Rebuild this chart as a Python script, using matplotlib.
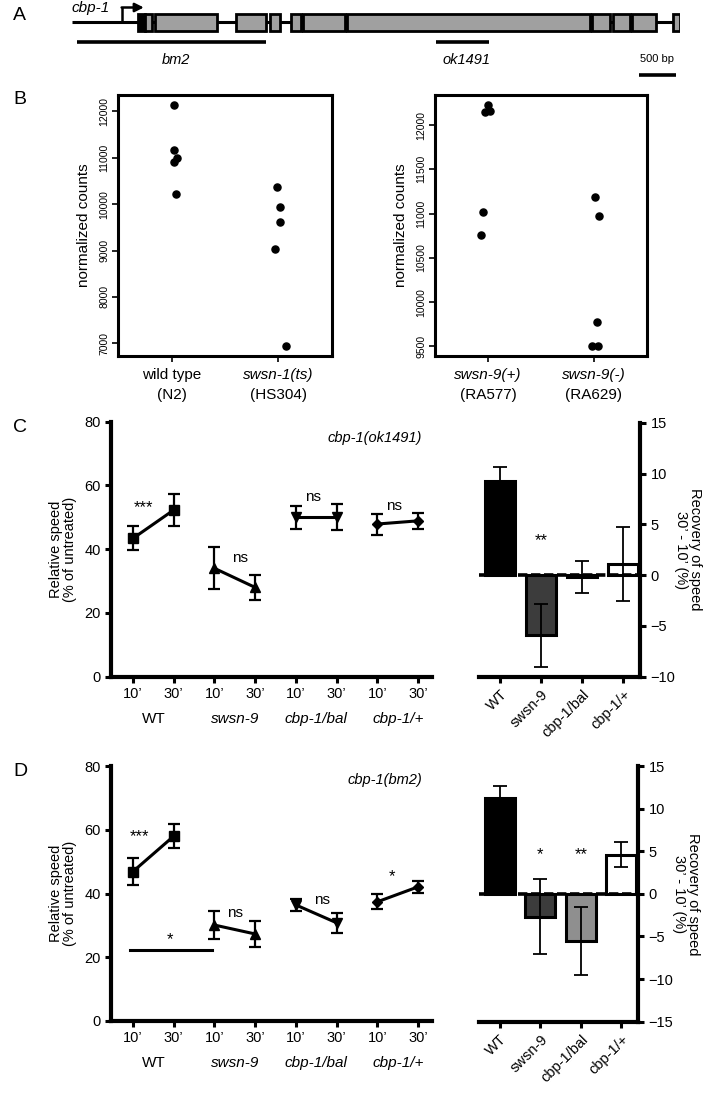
import matplotlib.pyplot as plt
import matplotlib.patches as mpatches
import numpy as np

plt.rcParams['font.family'] = ['Liberation Sans', 'DejaVu Sans']

# ---------------- data ----------------
# A: cbp-1 gene model, positions in bp from start of drawn region
gene_length = 8210
tss = 680
exons = [(890, 985), (985, 1080), (1120, 1960), (2215, 2620), (2675, 2810),
         (2955, 3090), (3120, 3685), (3715, 6995), (7020, 7265), (7305, 7535),
         (7560, 7885), (8115, 8210)]
deletion_names = ['bm2', 'ok1491']
deletion_spans = [(70, 2620), (4915, 5630)]
scale_start = 7655
scale_bp = 500

# B: normalized counts
b1_groups = ['wild type', 'swsn-1(ts)']
b1_strains = ['(N2)', '(HS304)']
b1_counts = [[12145, 11161, 10994, 10907, 10213],
             [10365, 9945, 9605, 9026, 6935]]
b1_jitter = [[0.025, 0.025, 0.05, 0.02, 0.045],
             [-0.014, 0.014, 0.014, -0.033, 0.07]]
b2_groups = ['swsn-9(+)', 'swsn-9(-)']
b2_strains = ['(RA577)', '(RA629)']
b2_counts = [[12231, 12152, 12159, 11019, 10758],
             [11193, 10977, 9773, 9500, 9500]]
b2_jitter = [[0.0, -0.03, 0.02, -0.05, -0.07],
             [0.01, 0.05, 0.025, -0.02, 0.04]]

# C/D: relative speed
genotypes = ['WT', 'swsn-9', 'cbp-1/bal', 'cbp-1/+']
timepoints = ['10’', '30’']
c_speed = [43.4, 52.3, 34.0, 28.0, 50.0, 50.0, 47.9, 48.9]
c_speed_err = [3.8, 5.1, 6.6, 3.9, 3.7, 4.1, 3.3, 2.6]
d_speed = [46.9, 58.0, 30.1, 27.3, 36.4, 30.8, 37.4, 42.1]
d_speed_err = [4.2, 3.7, 4.5, 4.0, 2.0, 3.1, 2.3, 1.9]
c_sig = ['***', 'ns', 'ns', 'ns']
d_sig = ['***', 'ns', 'ns', '*']

# recovery (30' - 10')
c_recovery = [9.25, -5.9, -0.2, 1.1]
c_rec_err = [1.4, 3.1, 1.55, 3.6]
c_rec_sig = ['', '**', '', '']
d_recovery = [11.3, -2.7, -5.5, 4.6]
d_rec_err = [1.3, 4.4, 4.0, 1.5]
d_rec_sig = ['', '*', '**', '']

markers = ['s', '^', 'v', 'D']
marker_sizes = [7, 7, 7, 5]
bar_colors = ['black', '#3c3c3c', '#8f8f8f', 'white']

W, H = 709, 1093
fig = plt.figure(figsize=(W / 100, H / 100), dpi=100)


def px_axes(x0, y0, x1, y1):
    return fig.add_axes([x0 / W, 1 - y1 / H, (x1 - x0) / W, (y1 - y0) / H])


# ---------------- panel A ----------------
axa = px_axes(72, 0, 680, 80)
axa.set_xlim(0, gene_length)
axa.set_ylim(80, 0)
axa.axis('off')
axa.plot([0, gene_length], [22, 22], color='k', lw=2.2, solid_capstyle='butt')
for i, (s, e) in enumerate(exons):
    fc = 'black' if i == 0 else '#a0a0a0'
    axa.add_patch(mpatches.Rectangle((s, 13.5), e - s, 17, facecolor=fc,
                                     edgecolor='k', lw=2.0, zorder=3))
axa.plot([tss, tss], [22, 7.5], color='k', lw=1.8)
axa.annotate('', xy=(tss + 290, 7.5), xytext=(tss - 10, 7.5),
             arrowprops=dict(arrowstyle='-|>', color='k', lw=1.8,
                             mutation_scale=13, shrinkA=0, shrinkB=0))
axa.text(0, 8, 'cbp-1', style='italic', fontsize=11, ha='left', va='center')
for name, (s, e) in zip(deletion_names, deletion_spans):
    axa.plot([s, e], [42, 42], color='k', lw=2.6, solid_capstyle='butt')
    axa.text((s + e) / 2 + 60, 60, name, style='italic', fontsize=10.5,
             ha='center', va='center')
axa.plot([scale_start, scale_start + scale_bp], [75, 75], color='k', lw=2.6,
         solid_capstyle='butt')
axa.text(scale_start + scale_bp / 2, 59, f'{scale_bp} bp', fontsize=8,
         ha='center', va='center')


# ---------------- panel B ----------------
def counts_panel(ax, groups, strains, counts, jitter, yticks):
    for g, (vals, jit) in enumerate(zip(counts, jitter)):
        ax.scatter(np.array(jit) + g + 1, vals, s=26, color='black', zorder=3)
    allv = np.concatenate(counts)
    pad = 0.04 * (allv.max() - allv.min())
    ax.set_ylim(allv.min() - pad, allv.max() + pad)
    ax.set_xlim(0.5, 2.5)
    ax.set_yticks(yticks)
    ax.set_yticklabels([str(t) for t in yticks], fontsize=7.5,
                       rotation=90, va='center')
    ax.set_xticks([1, 2])
    ax.set_xticklabels(['', ''])
    for g, (gr, st) in enumerate(zip(groups, strains)):
        it = 'normal' if gr == 'wild type' else 'italic'
        ax.annotate(gr, xy=(g + 1, 0), xycoords=('data', 'axes fraction'),
                    xytext=(0, -14), textcoords='offset points', ha='center',
                    va='center', fontsize=11, style=it)
        ax.annotate(st, xy=(g + 1, 0), xycoords=('data', 'axes fraction'),
                    xytext=(0, -28), textcoords='offset points', ha='center',
                    va='center', fontsize=11)
    for sp in ax.spines.values():
        sp.set_linewidth(2.2)
    ax.tick_params(length=4, width=1.2, pad=2)
    ax.set_ylabel('normalized counts', fontsize=11, labelpad=6)


axb1 = px_axes(118, 95, 332, 356)
counts_panel(axb1, b1_groups, b1_strains, b1_counts, b1_jitter,
             [7000, 8000, 9000, 10000, 11000, 12000])
axb2 = px_axes(435, 95, 647, 356)
counts_panel(axb2, b2_groups, b2_strains, b2_counts, b2_jitter,
             [9500, 10000, 10500, 11000, 11500, 12000])


# ---------------- panels C / D ----------------
def speed_panel(ax, speed, err, sig, sig_pos, title, title_y):
    for g in range(4):
        xs = [2 * g + 1, 2 * g + 2]
        ax.errorbar(xs, speed[2 * g:2 * g + 2], yerr=err[2 * g:2 * g + 2],
                    color='k', marker=markers[g], ms=marker_sizes[g], lw=2.2,
                    elinewidth=1.6, capsize=4, capthick=1.6, zorder=3)
    for s, (x, y) in zip(sig, sig_pos):
        ax.text(x, y, s, fontsize=11 if s == 'ns' else 12,
                ha='center', va='center')
    ax.text(8.1, title_y, title, style='italic', fontsize=10.5,
            ha='right', va='center')
    ax.set_xlim(0.46, 8.34)
    ax.set_ylim(0, 80)
    ax.set_yticks([0, 20, 40, 60, 80])
    ax.set_xticks(range(1, 9))
    ax.set_xticklabels(timepoints * 4)
    for g, name in enumerate(genotypes):
        ax.annotate(name, xy=(2 * g + 1.5, 0),
                    xycoords=('data', 'axes fraction'),
                    xytext=(0, -30.5), textcoords='offset points',
                    ha='center', va='center', fontsize=11,
                    style='normal' if name == 'WT' else 'italic')
    for sp in ['top', 'right']:
        ax.spines[sp].set_visible(False)
    for sp in ['left', 'bottom']:
        ax.spines[sp].set_linewidth(3)
    ax.tick_params(length=4.5, width=2.2, labelsize=10.5, pad=3)
    ax.set_ylabel('Relative speed\n(% of untreated)', fontsize=10.5,
                  labelpad=5, linespacing=1.0)


def recovery_panel(ax, vals, err, sig, sig_y, ylim, yticks):
    x = np.arange(1, 5)
    ax.bar(x, vals, width=0.74, color=bar_colors, edgecolor='k', lw=2.2,
           zorder=2)
    ax.errorbar(x, vals, yerr=err, fmt='none', ecolor='k', elinewidth=1.3,
                capsize=5, capthick=1.3, zorder=4)
    ax.axhline(0, color='k', lw=2.6, ls=(0, (2.6, 1.0)), zorder=3)
    for xi, s in zip(x, sig):
        if s:
            ax.text(xi, sig_y, s, fontsize=12, ha='center', va='center')
    ax.set_xlim(0.49, 4.41)
    ax.set_ylim(*ylim)
    ax.set_yticks(yticks)
    ax.set_xticks(x)
    ax.set_xticklabels(genotypes, rotation=45, ha='right',
                       rotation_mode='anchor', fontsize=10.5)
    ax.yaxis.tick_right()
    ax.yaxis.set_label_position('right')
    for sp in ['top', 'left']:
        ax.spines[sp].set_visible(False)
    for sp in ['right', 'bottom']:
        ax.spines[sp].set_linewidth(3)
    ax.tick_params(length=4.5, width=2.2, labelsize=10.5, pad=3)
    ax.set_ylabel('Recovery of speed\n30’ - 10’ (%)', rotation=270,
                  fontsize=10.5, labelpad=19, linespacing=1.0)


axc1 = px_axes(111, 421.7, 432, 676.7)
speed_panel(axc1, c_speed, c_speed_err, c_sig,
            [(1.25, 53.2), (3.63, 37.2), (5.42, 56.3), (7.41, 53.5)],
            'cbp-1(ok1491)', 75)
axc2 = px_axes(479, 422.7, 640, 676.7)
recovery_panel(axc2, c_recovery, c_rec_err, c_rec_sig, 3.4,
               (-10, 15), [-10, -5, 0, 5, 10, 15])

axd1 = px_axes(111, 766, 432, 1021)
speed_panel(axd1, d_speed, d_speed_err, d_sig,
            [(1.15, 57.8), (3.5, 34.0), (5.64, 38.0), (7.35, 45.2)],
            'cbp-1(bm2)', 75.5)
# WT 10' vs swsn-9 10'
axd1.plot([0.93, 2.93], [22.3, 22.3], color='k', lw=2.2)
axd1.text(1.9, 25.5, '*', fontsize=12, ha='center', va='center')
axd2 = px_axes(479, 766, 638, 1021.7)
recovery_panel(axd2, d_recovery, d_rec_err, d_rec_sig, 4.6,
               (-15, 15), [-15, -10, -5, 0, 5, 10, 15])

for lab, y in zip('ABCD', [16, 100, 428, 772]):
    fig.text(13 / W, 1 - y / H, lab, fontsize=14, ha='left', va='center')

fig.savefig('out.png', dpi=100)
